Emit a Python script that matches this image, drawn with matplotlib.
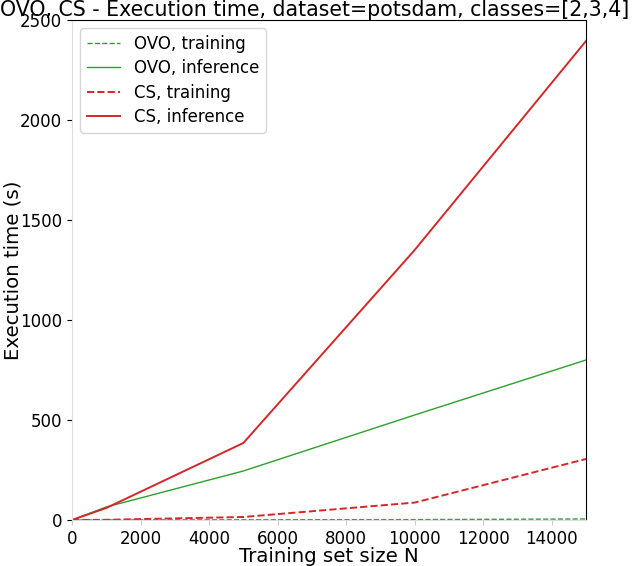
import numpy as np
import matplotlib.pyplot as plt

# training set sizes
N = [0, 1000, 5000, 10000, 15000]

# execution times (s)
ovo_train = [0, 0.3, 1, 2, 5]
ovo_infer = [0, 65, 245, 525, 800]
cs_train = [0, 1, 15, 87, 305]
cs_infer = [0, 60, 385, 1350, 2395]

green = '#2ca02c'
red = '#d62728'

fig = plt.figure(figsize=(6.34, 5.66), dpi=100)
ax = fig.add_axes([0.1136, 0.0813, 0.8107, 0.8834])

ax.plot(N, ovo_train, color=green, linestyle='--', lw=1, label='OVO, training')
ax.plot(N, ovo_infer, color=green, linestyle='-', lw=1, label='OVO, inference')
ax.plot(N, cs_train, color=red, linestyle='--', lw=1.4, label='CS, training')
ax.plot(N, cs_infer, color=red, linestyle='-', lw=1.4, label='CS, inference')

ax.set_xlim(0, 15000)
ax.set_ylim(0, 2500)
ax.set_xticks([0, 2000, 4000, 6000, 8000, 10000, 12000, 14000])
ax.set_yticks([0, 500, 1000, 1500, 2000, 2500])
ax.tick_params(labelsize=12)
ax.tick_params(axis='x', color='#cccccc')

ax.spines['left'].set_color('#dddddd')
ax.spines['bottom'].set_color('#dddddd')

ax.set_xlabel('Training set size N', fontsize=14.2)
ax.xaxis.set_label_coords(0.5, -0.054)
ax.set_ylabel('Execution time (s)', fontsize=14.2)
ax.yaxis.set_label_coords(-0.097, 0.5)

# title is offset left of the axes centre in the original
fig.text(315 / 634, 1 - 16 / 566, 'OVO, CS - Execution time, dataset=potsdam, classes=[2,3,4]',
         fontsize=14.8, ha='center', va='baseline')

ax.legend(loc='upper left', fontsize=12, labelspacing=0.38)

fig.savefig('out.png', dpi=100)
